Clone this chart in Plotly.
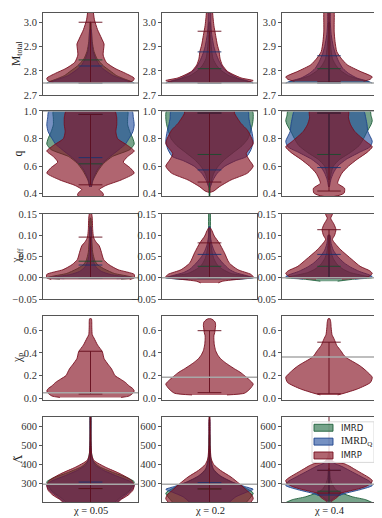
import plotly.graph_objects as go
from plotly.subplots import make_subplots

columns = ["χ = 0.05", "χ = 0.2", "χ = 0.4"]
models = ["IMRD", "IMRD<sub>Q</sub>", "IMRP"]
row_titles = ["M<sub>total</sub>", "q", "χ<sub>eff</sub>", "χ<sub>p</sub>", "Λ̃"]

# violin profiles: (levels, relative half-width), one per column
mtot_imrd = [
    ([2.75, 2.755, 2.765, 2.78, 2.80, 2.82, 2.85, 2.88, 2.92, 2.97, 3.0],
     [1.0, 0.95, 0.8, 0.6, 0.45, 0.3, 0.15, 0.08, 0.04, 0.02, 0.01]),
    ([2.75, 2.755, 2.765, 2.78, 2.80, 2.82, 2.85, 2.90, 2.95, 3.0],
     [1.0, 0.9, 0.7, 0.45, 0.28, 0.17, 0.08, 0.04, 0.02, 0.01]),
    ([2.75, 2.755, 2.765, 2.78, 2.80, 2.82, 2.85, 2.90, 2.95, 3.0],
     [1.0, 0.9, 0.7, 0.45, 0.28, 0.17, 0.08, 0.04, 0.02, 0.01]),
]
mtot_imrdq = [
    ([2.75, 2.755, 2.765, 2.78, 2.80, 2.82, 2.85, 2.88, 2.92, 2.97],
     [1.0, 0.9, 0.75, 0.52, 0.35, 0.22, 0.12, 0.06, 0.03, 0.015]),
    ([2.75, 2.76, 2.77, 2.79, 2.81, 2.84, 2.87, 2.90, 2.95, 3.0, 3.06],
     [1.0, 0.85, 0.65, 0.45, 0.32, 0.22, 0.15, 0.1, 0.05, 0.03, 0.02]),
    ([2.75, 2.76, 2.77, 2.79, 2.81, 2.84, 2.87, 2.90, 2.95, 3.0, 3.06],
     [1.0, 0.85, 0.65, 0.45, 0.32, 0.22, 0.15, 0.1, 0.05, 0.03, 0.02]),
]
mtot_imrp = [
    ([2.752, 2.76, 2.77, 2.79, 2.81, 2.835, 2.865, 2.89, 2.91, 2.935, 2.97, 3.01, 3.05, 3.1],
     [0.85, 0.98, 1.0, 0.8, 0.56, 0.36, 0.29, 0.3, 0.31, 0.25, 0.16, 0.09, 0.06, 0.03]),
    ([2.752, 2.76, 2.771, 2.798, 2.825, 2.852, 2.88, 2.906, 2.946, 2.987, 3.02, 3.06, 3.1],
     [0.85, 1.0, 0.72, 0.41, 0.29, 0.24, 0.22, 0.18, 0.14, 0.1, 0.08, 0.06, 0.03]),
    ([2.757, 2.765, 2.775, 2.798, 2.825, 2.852, 2.879, 2.92, 2.96, 3.0, 3.04, 3.07, 3.1],
     [0.8, 0.95, 1.0, 0.72, 0.42, 0.28, 0.18, 0.14, 0.12, 0.12, 0.12, 0.08, 0.03]),
]

q_imrd = [
    ([0.45, 0.50, 0.57, 0.62, 0.67, 0.72, 0.76, 0.80, 0.85, 0.90, 0.95, 1.0],
     [0.02, 0.06, 0.18, 0.3, 0.5, 0.9, 1.0, 0.97, 0.9, 0.85, 0.85, 0.85]),
    ([0.37, 0.45, 0.50, 0.55, 0.60, 0.65, 0.70, 0.75, 0.80, 0.90, 0.95, 1.0],
     [0.005, 0.02, 0.05, 0.1, 0.2, 0.35, 0.55, 0.75, 0.88, 0.98, 1.0, 0.98]),
    ([0.50, 0.55, 0.60, 0.65, 0.70, 0.75, 0.80, 0.85, 0.90, 0.93, 0.97, 1.0],
     [0.02, 0.05, 0.1, 0.25, 0.5, 0.7, 0.8, 0.88, 0.97, 1.0, 0.97, 0.95]),
]
q_imrdq = [
    ([0.45, 0.50, 0.57, 0.62, 0.67, 0.72, 0.76, 0.80, 0.85, 0.90, 0.95, 1.0],
     [0.02, 0.05, 0.15, 0.27, 0.45, 0.65, 0.8, 0.88, 0.97, 1.0, 0.98, 0.95]),
    ([0.45, 0.50, 0.55, 0.60, 0.64, 0.67, 0.72, 0.78, 0.85, 0.90, 0.95, 1.0],
     [0.02, 0.08, 0.18, 0.35, 0.6, 0.85, 0.95, 1.0, 0.97, 0.93, 0.9, 0.88]),
    ([0.45, 0.50, 0.55, 0.60, 0.65, 0.70, 0.74, 0.78, 0.85, 0.90, 0.95, 1.0],
     [0.01, 0.04, 0.1, 0.2, 0.4, 0.7, 0.95, 1.0, 0.9, 0.88, 0.85, 0.8]),
]
q_imrp = [
    ([0.35, 0.37, 0.39, 0.41, 0.43, 0.46, 0.50, 0.55, 0.59, 0.63, 0.67, 0.71, 0.75, 0.80, 0.85, 0.90, 0.95, 0.985, 1.0],
     [0.0, 0.2, 0.3, 0.27, 0.2, 0.35, 0.7, 1.0, 0.9, 0.75, 0.85, 1.0, 0.85, 0.62, 0.58, 0.6, 0.6, 0.58, 0.56]),
    ([0.41, 0.42, 0.45, 0.50, 0.55, 0.60, 0.645, 0.69, 0.765, 0.86, 0.91, 0.985, 1.0],
     [0.0, 0.1, 0.22, 0.49, 0.87, 1.0, 0.91, 0.84, 1.0, 0.87, 0.72, 0.57, 0.57]),
    ([0.375, 0.39, 0.405, 0.44, 0.475, 0.50, 0.55, 0.60, 0.65, 0.70, 0.74, 0.78, 0.85, 0.90, 0.95, 1.0],
     [0.0, 0.25, 0.35, 0.36, 0.2, 0.22, 0.3, 0.45, 0.65, 0.88, 1.0, 0.85, 0.6, 0.5, 0.45, 0.45]),
]

chieff_imrd = [
    ([-0.003, 0.0, 0.004, 0.01, 0.02, 0.03, 0.04, 0.06, 0.09, 0.12, 0.14],
     [0.7, 1.0, 0.85, 0.55, 0.33, 0.17, 0.1, 0.05, 0.03, 0.02, 0.01]),
    ([-0.004, 0.0, 0.005, 0.01, 0.02, 0.03, 0.045, 0.06, 0.08, 0.10, 0.16],
     [0.5, 1.0, 0.8, 0.5, 0.3, 0.18, 0.1, 0.06, 0.03, 0.02, 0.01]),
    ([-0.008, -0.003, 0.0, 0.005, 0.012, 0.02, 0.03, 0.045, 0.06, 0.08, 0.10],
     [0.2, 0.6, 1.0, 0.8, 0.5, 0.33, 0.2, 0.1, 0.05, 0.025, 0.015]),
]
chieff_imrdq = [
    ([-0.002, 0.0, 0.003, 0.008, 0.015, 0.025, 0.035, 0.05, 0.07, 0.12],
     [0.6, 1.0, 0.75, 0.45, 0.25, 0.13, 0.08, 0.04, 0.02, 0.01]),
    ([-0.004, 0.0, 0.005, 0.012, 0.02, 0.035, 0.05, 0.065, 0.08, 0.10, 0.12],
     [0.5, 1.0, 0.85, 0.6, 0.45, 0.3, 0.18, 0.1, 0.05, 0.02, 0.01]),
    ([-0.003, 0.003, 0.008, 0.015, 0.025, 0.035, 0.05, 0.065, 0.08, 0.10],
     [0.6, 1.0, 0.9, 0.7, 0.5, 0.35, 0.2, 0.1, 0.05, 0.02]),
]
chieff_imrp = [
    ([-0.004, 0.0, 0.008, 0.019, 0.031, 0.043, 0.06, 0.075, 0.085, 0.095, 0.113, 0.14, 0.152],
     [0.9, 1.0, 1.0, 0.63, 0.42, 0.3, 0.25, 0.2, 0.12, 0.07, 0.05, 0.04, 0.02]),
    ([-0.012, -0.008, -0.003, 0.002, 0.008, 0.019, 0.035, 0.059, 0.082, 0.098, 0.11, 0.117],
     [0.2, 0.3, 0.7, 1.0, 0.95, 0.65, 0.45, 0.34, 0.22, 0.11, 0.06, 0.02]),
    ([-0.003, 0.002, 0.01, 0.016, 0.027, 0.043, 0.067, 0.09, 0.10, 0.113, 0.125, 0.14, 0.15, 0.158],
     [0.3, 0.9, 1.0, 0.95, 0.72, 0.53, 0.26, 0.08, 0.13, 0.16, 0.12, 0.04, 0.08, 0.02]),
]

chip_imrp = [
    ([0.008, 0.02, 0.045, 0.065, 0.085, 0.11, 0.14, 0.17, 0.20, 0.23, 0.26, 0.30, 0.35, 0.41, 0.47, 0.53, 0.56, 0.62, 0.70],
     [0.7, 0.88, 0.97, 1.0, 0.97, 0.88, 0.8, 0.68, 0.56, 0.52, 0.48, 0.4, 0.31, 0.27, 0.16, 0.08, 0.04, 0.03, 0.02]),
    ([0.03, 0.045, 0.08, 0.125, 0.16, 0.20, 0.23, 0.26, 0.29, 0.32, 0.35, 0.38, 0.42, 0.47, 0.52, 0.55, 0.58, 0.61, 0.64, 0.67, 0.69, 0.70],
     [0.4, 0.8, 0.92, 1.0, 0.92, 0.8, 0.7, 0.57, 0.45, 0.34, 0.25, 0.19, 0.14, 0.11, 0.1, 0.1, 0.12, 0.13, 0.14, 0.13, 0.08, 0.03]),
    ([0.03, 0.045, 0.083, 0.14, 0.185, 0.22, 0.258, 0.29, 0.317, 0.35, 0.376, 0.42, 0.465, 0.52, 0.56, 0.62, 0.67, 0.70],
     [0.2, 0.35, 0.66, 0.96, 1.0, 0.92, 0.81, 0.7, 0.58, 0.43, 0.35, 0.27, 0.18, 0.12, 0.07, 0.05, 0.04, 0.02]),
]

lam_imrd = [
    ([190, 230, 260, 290, 310, 330, 360, 390, 420, 470, 560, 660],
     [0.5, 0.7, 0.88, 0.97, 1.0, 0.85, 0.5, 0.2, 0.06, 0.02, 0.01, 0.005]),
    ([190, 230, 250, 280, 310, 340, 380, 450, 560],
     [0.8, 0.95, 1.0, 0.8, 0.5, 0.25, 0.08, 0.02, 0.005]),
    ([200, 215, 230, 250, 270, 300, 330, 380],
     [1.0, 0.85, 0.55, 0.3, 0.15, 0.07, 0.03, 0.01]),
]
lam_imrdq = [
    ([190, 230, 260, 290, 310, 340, 370, 400, 440, 520, 660],
     [0.55, 0.75, 0.92, 1.0, 0.92, 0.6, 0.3, 0.1, 0.03, 0.01, 0.005]),
    ([190, 230, 255, 270, 285, 310, 340, 370, 420, 500, 640],
     [0.4, 0.6, 0.85, 1.0, 0.8, 0.5, 0.25, 0.1, 0.03, 0.01, 0.005]),
    ([205, 230, 250, 270, 290, 310, 330, 360, 390, 410, 430],
     [0.02, 0.15, 0.4, 0.75, 1.0, 0.95, 0.8, 0.55, 0.3, 0.1, 0.02]),
]
lam_imrp = [
    ([190, 213, 239, 265, 291, 317, 352, 387, 422, 450, 500, 600, 660],
     [0.6, 0.68, 0.86, 0.97, 1.0, 0.94, 0.68, 0.34, 0.08, 0.03, 0.015, 0.01, 0.005]),
    ([190, 220, 240, 265, 300, 335, 370, 400, 430, 500, 660],
     [0.9, 1.0, 0.97, 0.85, 0.68, 0.49, 0.25, 0.1, 0.04, 0.015, 0.005]),
    ([205, 213, 230, 248, 260, 270, 285, 300, 317, 335, 355, 375, 395, 405, 415, 440, 460],
     [0.05, 0.1, 0.2, 0.26, 0.45, 0.64, 0.85, 0.97, 1.0, 0.9, 0.75, 0.6, 0.45, 0.35, 0.1, 0.03, 0.01]),
]

# horizontal marker lines per violin (vertical bar joins lowest and highest)
mtot_caps = {"IMRD": [[2.75, 2.845], [2.75, 2.809], [2.75, 2.809]],
             "IMRDQ": [[2.75, 2.82], [2.75, 2.878], [2.75, 2.862]],
             "IMRP": [[2.752, 3.0], [2.752, 2.963], [2.755, 3.2]]}
q_caps = {"IMRD": [[0.617, 0.975], [0.37, 0.685, 0.985], [0.685, 0.985]],
          "IMRDQ": [[0.662, 0.975], [0.573, 0.985], [0.59, 0.985]],
          "IMRP": [[0.465, 0.975], [0.485, 0.985], [0.42, 0.985]]}
chieff_caps = {"IMRD": [[0.0, 0.039], [0.0, 0.027], [0.0, 0.027]],
               "IMRDQ": [[0.0, 0.03], [0.0, 0.055], [0.0, 0.055]],
               "IMRP": [[0.0, 0.0956], [0.0, 0.082], [0.0, 0.113]]}
chip_caps = {"IMRP": [[0.038, 0.414], [0.05, 0.595], [0.04, 0.494]]}
lam_caps = {"IMRD": [[190, 274], [190, 272], [190, 260]],
            "IMRDQ": [[190, 308], [190, 305], [240, 370]],
            "IMRP": [[190, 274, 700], [190, 272, 700], [250, 370, 700]]}

# injected values (gray lines)
mtot_true = [2.75, 2.75, 2.75]
q_true = [1.0, 1.0, 1.0]
chieff_true = [0.0, 0.0, 0.0]
chip_true = [0.05, 0.186, 0.363]
lam_true = [296, 296, 296]

y_ranges = [[2.7, 3.038], [0.383, 1.0], [-0.05, 0.15], [-0.015, 0.725], [203, 652]]
y_ticks = [[2.7, 2.8, 2.9, 3.0], [0.4, 0.6, 0.8, 1.0], [-0.05, 0.0, 0.05, 0.10, 0.15],
           [0.0, 0.2, 0.4, 0.6], [300, 400, 500, 600]]
y_ticktext = [["2.7", "2.8", "2.9", "3.0"], ["0.4", "0.6", "0.8", "1.0"],
              ["−0.05", "0.00", "0.05", "0.10", "0.15"], ["0.0", "0.2", "0.4", "0.6"],
              ["300", "400", "500", "600"]]

fills = {"IMRD": "rgba(34,107,66,0.62)", "IMRDQ": "rgba(34,78,157,0.62)", "IMRP": "rgba(133,18,35,0.65)"}
edges = {"IMRD": "rgba(30,95,58,0.9)", "IMRDQ": "rgba(30,68,140,0.9)", "IMRP": "rgba(120,15,32,0.9)"}
bars = {"IMRD": "rgba(25,75,45,0.9)", "IMRDQ": "rgba(25,50,110,0.9)", "IMRP": "rgba(100,12,28,0.9)"}

rows = [
    ({"IMRD": mtot_imrd, "IMRDQ": mtot_imrdq, "IMRP": mtot_imrp}, mtot_caps, mtot_true),
    ({"IMRD": q_imrd, "IMRDQ": q_imrdq, "IMRP": q_imrp}, q_caps, q_true),
    ({"IMRD": chieff_imrd, "IMRDQ": chieff_imrdq, "IMRP": chieff_imrp}, chieff_caps, chieff_true),
    ({"IMRP": chip_imrp}, chip_caps, chip_true),
    ({"IMRD": lam_imrd, "IMRDQ": lam_imrdq, "IMRP": lam_imrp}, lam_caps, lam_true),
]

HALF = 0.92
CAP = 0.25
SERIF = "Liberation Serif"

fig = make_subplots(rows=5, cols=3)
keys = ["IMRD", "IMRDQ", "IMRP"]

for r, (profiles, caps, truth) in enumerate(rows, start=1):
    for c in range(3):
        for key in keys:
            if key not in profiles:
                continue
            ys, ws = profiles[key][c]
            xr = [HALF * w for w in ws]
            x = xr + [-v for v in xr[::-1]]
            y = list(ys) + list(ys[::-1])
            fig.add_trace(go.Scatter(
                x=x, y=y, fill="toself", mode="lines",
                fillcolor=fills[key],
                line=dict(color=edges[key], width=1, shape="spline", smoothing=0.6),
                showlegend=False, hoverinfo="skip"), row=r, col=c + 1)
        for key in keys:
            if key not in caps:
                continue
            vals = caps[key][c]
            bx, by = [0, 0], [min(vals), max(vals)]
            for v in vals:
                bx += [None, -CAP, CAP]
                by += [None, v, v]
            fig.add_trace(go.Scatter(x=bx, y=by, mode="lines",
                                     line=dict(color=bars[key], width=1),
                                     showlegend=False, hoverinfo="skip"), row=r, col=c + 1)
        fig.add_trace(go.Scatter(x=[-1, 1], y=[truth[c], truth[c]], mode="lines",
                                 line=dict(color="#a8a8a8", width=1.5),
                                 showlegend=False, hoverinfo="skip"), row=r, col=c + 1)

# the page puts the figure 8px in from the top-left corner of the window
OFF = 8
W, H = 382 - OFF, 518 - OFF
col_px = [(43, 138), (162, 257), (282, 376)]
row_px = [(8, 91), (107, 193), (211, 297), (314, 399), (416, 502)]
ml, mr = col_px[0][0] - OFF, W - (col_px[2][1] - OFF)
mt, mb = row_px[0][0] - OFF, H - (row_px[4][1] - OFF)
pw, ph = W - ml - mr, H - mt - mb


def px_x(v):
    return (v - OFF - ml) / pw


def px_y(v):
    return (H - mb - (v - OFF)) / ph


for r in range(5):
    for c in range(3):
        idx = r * 3 + c + 1
        sfx = "" if idx == 1 else str(idx)
        x0, x1 = col_px[c]
        y0, y1 = row_px[r]
        fig.layout["xaxis" + sfx].update(
            domain=[px_x(x0), px_x(x1)], range=[-1, 1],
            showticklabels=False, ticks="", showgrid=False, zeroline=False,
            showline=True, mirror=True, linecolor="#555555", linewidth=1)
        fig.layout["yaxis" + sfx].update(
            domain=[px_y(y1), px_y(y0)], range=y_ranges[r],
            tickvals=y_ticks[r], ticktext=y_ticktext[r], ticks="outside", ticklen=3,
            tickcolor="#555555", showgrid=False, zeroline=False,
            showline=True, mirror=True, linecolor="#555555", linewidth=1,
            tickfont=dict(family=SERIF, size=10.5, color="#333333"))

title_x = [17, 19, 17, 18, 18]
for r in range(5):
    y0, y1 = row_px[r]
    fig.add_annotation(text=row_titles[r], xref="paper", yref="paper",
                       x=px_x(title_x[r]), y=px_y((y0 + y1) / 2),
                       textangle=-90, showarrow=False, xanchor="center", yanchor="middle",
                       font=dict(family="DejaVu Serif" if r == 4 else SERIF, size=11.5,
                                 color="#222222"))
for c in range(3):
    x0, x1 = col_px[c]
    fig.add_annotation(text=columns[c], xref="paper", yref="paper",
                       x=px_x((x0 + x1) / 2), y=px_y(503),
                       showarrow=False, xanchor="center", yanchor="top",
                       font=dict(family=SERIF, size=10.5, color="#222222"))

# hand-placed legend box in the bottom right panel
fig.add_shape(type="rect", xref="paper", yref="paper",
              x0=px_x(312), x1=px_x(374), y0=px_y(462), y1=px_y(421),
              fillcolor="rgba(255,255,255,0.8)", line=dict(color="#d8d8d8", width=1))
legend_rows = [427, 441, 455]
for k, key in enumerate(keys):
    yc = legend_rows[k]
    fig.add_shape(type="rect", xref="paper", yref="paper",
                  x0=px_x(314), x1=px_x(333), y0=px_y(yc + 3.5), y1=px_y(yc - 3.5),
                  fillcolor=fills[key], line=dict(color=edges[key], width=1))
    fig.add_annotation(text=models[k], xref="paper", yref="paper",
                       x=px_x(339), y=px_y(yc), xanchor="left", yanchor="middle",
                       showarrow=False,
                       font=dict(family=SERIF if key == "IMRDQ" else "DejaVu Sans",
                                 size=10 if key == "IMRDQ" else 8.5, color="#222222"))

fig.update_layout(
    width=W, height=H, margin=dict(l=ml, r=mr, t=mt, b=mb, pad=0),
    plot_bgcolor="white", paper_bgcolor="white", hovermode=False, showlegend=False,
)

fig.write_html("out.html")
